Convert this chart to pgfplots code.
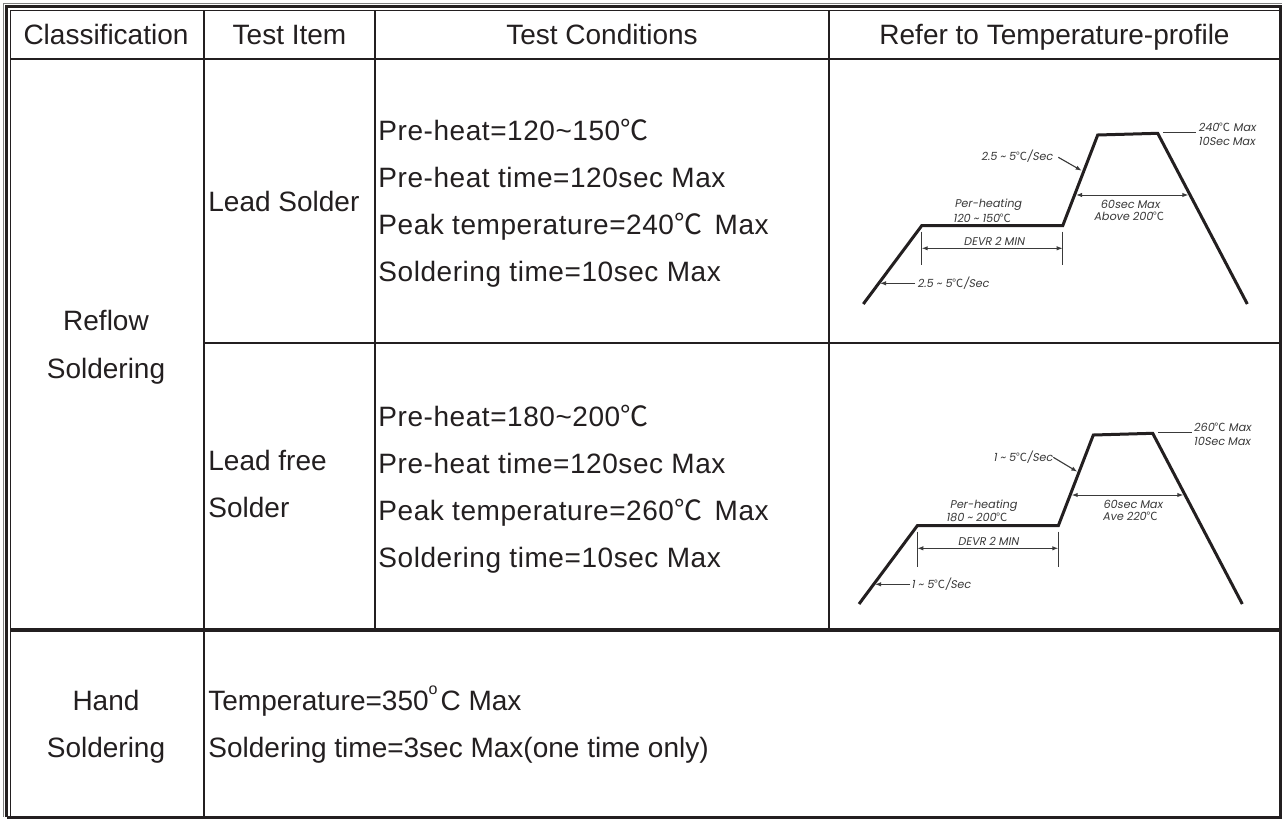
\documentclass[border=0pt]{standalone}
\usepackage{fontspec}
\setmainfont{Liberation Sans}
\newfontfamily\cjk{Noto Sans CJK SC}
\newfontfamily\condfont[LetterSpace=2]{Liberation Sans}
\newfontfamily\chartfont[FakeSlant=0.18]{Poppins}
\usepackage{pgfplots}
\pgfplotsset{compat=1.18}
\usetikzlibrary{arrows.meta}
\definecolor{ink}{HTML}{231F20}
\definecolor{gink}{HTML}{3A3A3A}
\newcommand{\dc}{{\cjk ℃}}
\newcommand{\tl}{\textasciitilde}
\begin{document}
\begin{tikzpicture}
\begin{axis}[width=641.5pt, height=409.5pt, scale only axis,
  xmin=0, xmax=1283, ymin=0, ymax=819, y dir=reverse,
  hide axis, clip=false]
% background
\addplot[draw=none, fill=white] coordinates {(0,0) (1283,0) (1283,819) (0,819) (0,0)};
% ---------- table frame ----------
\addplot[ink, line width=1.5pt] coordinates {(6.5,817) (6.5,6.5) (1280,6.5) (1280,817) (6.5,817)};
\addplot[ink, line width=0.5pt] coordinates {(10,817) (10,10) (1280,10)};
\addplot[gray, line width=0.4pt] coordinates {(3.5,817) (3.5,3.5) (1282,3.5)};
% header bottom
\addplot[ink, line width=1.4pt] coordinates {(10,59) (1280,59)};
% thick row line
\addplot[ink, line width=1.8pt] coordinates {(10,630) (1280,630)};
% mid row line
\addplot[ink, line width=0.55pt] coordinates {(204,343) (1280,343)};
% column lines
\addplot[ink, line width=0.6pt] coordinates {(204,10) (204,817)};
\addplot[ink, line width=0.6pt] coordinates {(375,10) (375,630)};
\addplot[ink, line width=0.6pt] coordinates {(829,10) (829,630)};
% ---------- profile 1 (lead solder) ----------
\addplot[ink, line width=1.5pt, line join=miter] coordinates {(863.3,304) (921.7,225.7) (1062.7,225.7) (1097.7,135) (1157.7,133.3) (1247.3,304)};
\addplot[gink, line width=0.5pt] coordinates {(1163.3,132.7) (1196,132.7)};
\addplot[gink, line width=0.55pt, -{Latex[length=3pt,width=2.2pt]}] coordinates {(1058.3,157.3) (1081.7,170.7)};
\addplot[gink, line width=0.5pt, {Latex[length=3pt,width=2.2pt]}-{Latex[length=3pt,width=2.2pt]}] coordinates {(1076,195) (1188.3,195)};
\addplot[gink, line width=0.5pt] coordinates {(921.7,231.7) (921.7,265)};
\addplot[gink, line width=0.5pt] coordinates {(1062.7,231.7) (1062.7,265)};
\addplot[gink, line width=0.5pt, {Latex[length=3pt,width=2.2pt]}-{Latex[length=3pt,width=2.2pt]}] coordinates {(921.7,248.3) (1062.7,248.3)};
\addplot[gink, line width=0.5pt, -{Latex[length=3pt,width=2.2pt]}] coordinates {(915,283.3) (880,283.3)};
% ---------- profile 2 (lead free) ----------
\addplot[ink, line width=1.5pt, line join=miter] coordinates {(859,604) (917.3,525.7) (1058.3,525.7) (1093.3,435) (1152.7,433.3) (1242.3,604)};
\addplot[gink, line width=0.5pt] coordinates {(1158.3,432.7) (1191.7,432.7)};
\addplot[gink, line width=0.55pt, -{Latex[length=3pt,width=2.2pt]}] coordinates {(1053.3,457.3) (1077.3,471.7)};
\addplot[gink, line width=0.5pt, {Latex[length=3pt,width=2.2pt]}-{Latex[length=3pt,width=2.2pt]}] coordinates {(1071.7,495) (1183.3,495)};
\addplot[gink, line width=0.5pt] coordinates {(917.3,531.7) (917.3,566.7)};
\addplot[gink, line width=0.5pt] coordinates {(1058.3,531.7) (1058.3,566.7)};
\addplot[gink, line width=0.5pt, {Latex[length=3pt,width=2.2pt]}-{Latex[length=3pt,width=2.2pt]}] coordinates {(917.3,548.3) (1058.3,548.3)};
\addplot[gink, line width=0.5pt, -{Latex[length=3pt,width=2.2pt]}] coordinates {(910,584.3) (875,584.3)};
% ---------- header text ----------
\begin{scope}[every node/.style={text=ink, font=\fontsize{14}{16}\selectfont, inner sep=0pt}]
\node[anchor=base] at (axis cs:106,44) {Classification};
\node[anchor=base] at (axis cs:289.5,44) {Test Item};
\node[anchor=base] at (axis cs:602,44) {Test Conditions};
\node[anchor=base] at (axis cs:1054.5,44) {Refer to Temperature-profile};
% classification column
\node[anchor=base] at (axis cs:106,330) {Reflow};
\node[anchor=base] at (axis cs:106,378) {Soldering};
\node[anchor=base] at (axis cs:106,710) {Hand};
\node[anchor=base] at (axis cs:106,757) {Soldering};
% test item column
\node[anchor=base west] at (axis cs:208,211) {Lead Solder};
\node[anchor=base west] at (axis cs:208,470) {Lead free};
\node[anchor=base west] at (axis cs:208,517) {Solder};
% hand soldering
\node[anchor=base west] at (axis cs:208,710) {Temperature=350\raisebox{0.55em}{\fontsize{8}{9}\selectfont o}\hspace{1.5pt}C Max};
\node[anchor=base west] at (axis cs:208,757) {Soldering time=3sec Max(one time only)};
\end{scope}
% conditions
\begin{scope}[every node/.style={text=ink, font=\condfont\fontsize{14}{16}\selectfont, inner sep=0pt, anchor=base west}]
\node at (axis cs:378,140) {Pre-heat=120\tl150\dc};
\node at (axis cs:378,187) {Pre-heat time=120sec Max};
\node at (axis cs:378,234) {Peak temperature=240\dc\hspace{0.45em}Max};
\node at (axis cs:378,281) {Soldering time=10sec Max};
\node at (axis cs:378,426) {Pre-heat=180\tl200\dc};
\node at (axis cs:378,473) {Pre-heat time=120sec Max};
\node at (axis cs:378,520) {Peak temperature=260\dc\hspace{0.45em}Max};
\node at (axis cs:378,567) {Soldering time=10sec Max};
\end{scope}
% chart annotations
\begin{scope}[every node/.style={text=gink, font=\chartfont\fontsize{5.6}{6.5}\selectfont, inner sep=0pt}]
\node[anchor=west] at (axis cs:1198,127.7) {240\dc\ Max};
\node[anchor=west] at (axis cs:1198,141) {10Sec Max};
\node[anchor=east] at (axis cs:1053,156) {2.5 \tl\ 5\dc/Sec};
\node at (axis cs:1130,204) {60sec Max};
\node at (axis cs:1129,216.7) {Above 200\dc};
\node at (axis cs:988,205) {Per-heating};
\node at (axis cs:982,218) {120 \tl\ 150\dc};
\node at (axis cs:994,241) {DEVR 2 MIN};
\node[anchor=west] at (axis cs:917,283.3) {2.5 \tl\ 5\dc/Sec};
\node[anchor=west] at (axis cs:1193.3,427.7) {260\dc\ Max};
\node[anchor=west] at (axis cs:1193.3,441) {10Sec Max};
\node[anchor=east] at (axis cs:1053,457) {1 \tl\ 5\dc/Sec};
\node at (axis cs:1132.7,504.3) {60sec Max};
\node at (axis cs:1130,516.7) {Ave 220\dc};
\node at (axis cs:983.3,505.3) {Per-heating};
\node at (axis cs:976.7,517.7) {180 \tl\ 200\dc};
\node at (axis cs:988.3,541) {DEVR 2 MIN};
\node[anchor=west] at (axis cs:911,584.3) {1 \tl\ 5\dc/Sec};
\end{scope}
\end{axis}
\end{tikzpicture}
\end{document}
